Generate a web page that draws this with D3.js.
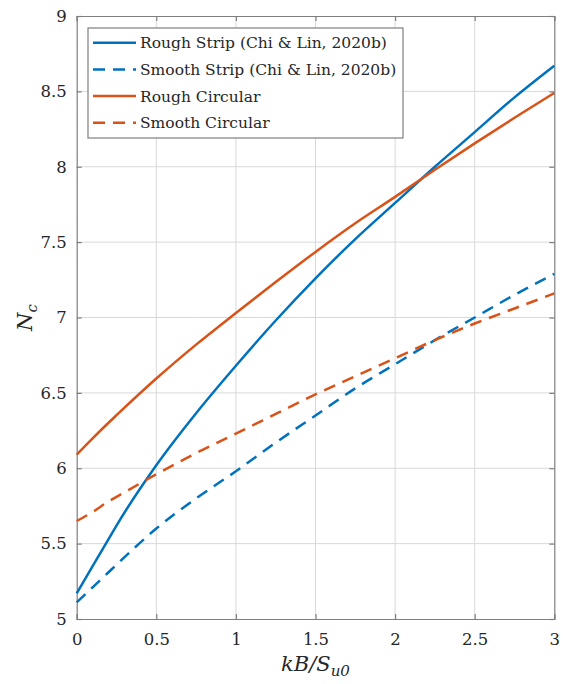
<!DOCTYPE html>
<html><head><meta charset="utf-8">
<script src="https://cdn.jsdelivr.net/npm/d3@7"></script>
<style>body{margin:0;background:#fff}svg{display:block}</style>
</head><body>
<script>
const xs = [0, 0.1, 0.2, 0.25, 0.5, 0.75, 1, 1.25, 1.5, 1.75, 2, 2.25, 2.5, 2.75, 3];
const roughStrip  = [5.17, 5.35, 5.53, 5.62, 6.02, 6.365, 6.68, 6.98, 7.26, 7.52, 7.76, 8.00, 8.23, 8.46, 8.67];
const smoothStrip = [5.11, 5.21, 5.31, 5.36, 5.60, 5.80, 5.98, 6.17, 6.35, 6.53, 6.69, 6.85, 7.00, 7.15, 7.29];
const roughCirc   = [6.09, 6.198, 6.302, 6.352, 6.595, 6.82, 7.03, 7.235, 7.435, 7.625, 7.80, 7.98, 8.155, 8.325, 8.49];
const smoothCirc  = [5.65, 5.71, 5.78, 5.81, 5.96, 6.10, 6.23, 6.36, 6.49, 6.61, 6.73, 6.85, 6.96, 7.06, 7.16];
const xTicks = [0, 0.5, 1, 1.5, 2, 2.5, 3];
const yTicks = [5, 5.5, 6, 6.5, 7, 7.5, 8, 8.5, 9];
const seriesNames = ["Rough Strip (Chi & Lin, 2020b)", "Smooth Strip (Chi & Lin, 2020b)", "Rough Circular", "Smooth Circular"];
const seriesColors = ["#0072BD", "#0072BD", "#D95319", "#D95319"];
const seriesDash = [null, "12,8", null, "12,8"];
const seriesData = [roughStrip, smoothStrip, roughCirc, smoothCirc];

const W = 565, H = 684;
const L = 76.7, R = 554.3, T = 16, B = 619;
const svg = d3.select("body").append("svg").attr("width", W).attr("height", H);
const x = d3.scaleLinear().domain([0, 3]).range([L, R]);
const y = d3.scaleLinear().domain([5, 9]).range([B, T]);
const font = "'DejaVu Serif', serif";

// grid
const g = svg.append("g");
g.selectAll(".gx").data(xTicks.slice(1, -1)).join("line")
  .attr("x1", d => x(d)).attr("x2", d => x(d)).attr("y1", T).attr("y2", B)
  .attr("stroke", "#d9d9d9").attr("stroke-width", 1);
g.selectAll(".gy").data(yTicks.slice(1, -1)).join("line")
  .attr("y1", d => y(d)).attr("y2", d => y(d)).attr("x1", L).attr("x2", R)
  .attr("stroke", "#d9d9d9").attr("stroke-width", 1);

// axes
const axB = d3.axisBottom(x).tickValues(xTicks).tickFormat(d3.format("")).tickSize(-5).tickPadding(14);
const axL = d3.axisLeft(y).tickValues(yTicks).tickFormat(d3.format("")).tickSize(-5).tickPadding(10);
const axT = d3.axisTop(x).tickValues(xTicks).tickSize(-5).tickFormat("");
const axR = d3.axisRight(y).tickValues(yTicks).tickSize(-5).tickFormat("");
function style(sel){
  sel.selectAll("path,line").attr("stroke", "#7f7f7f").attr("stroke-width", 1.2);
  sel.selectAll("text").attr("fill", "#262626").style("font-family", font).style("font-size", "16.5px");
}
svg.append("g").attr("transform", `translate(0,${B})`).call(axB).call(style);
svg.append("g").attr("transform", `translate(${L},0)`).call(axL).call(style);
svg.append("g").attr("transform", `translate(0,${T})`).call(axT).call(style);
svg.append("g").attr("transform", `translate(${R},0)`).call(axR).call(style);

// lines
const line = d3.line().x((d, i) => x(xs[i])).y(d => y(d)).curve(d3.curveMonotoneX);
seriesData.forEach((s, k) => {
  svg.append("path").datum(s).attr("d", line).attr("fill", "none")
    .attr("stroke", seriesColors[k]).attr("stroke-width", 2.5)
    .attr("stroke-dasharray", seriesDash[k]);
});

// legend
const lg = svg.append("g");
lg.append("rect").attr("x", 88).attr("y", 28).attr("width", 315).attr("height", 110)
  .attr("fill", "#fff").attr("stroke", "#7f7f7f").attr("stroke-width", 1.2);
seriesNames.forEach((n, k) => {
  const yy = 42.7 + k * 26.7;
  lg.append("line").attr("x1", 93).attr("x2", 136).attr("y1", yy).attr("y2", yy)
    .attr("stroke", seriesColors[k]).attr("stroke-width", 2.5).attr("stroke-dasharray", seriesDash[k]);
  lg.append("text").attr("x", 140).attr("y", yy).attr("dy", "0.35em").text(n)
    .attr("fill", "#262626").style("font-family", font).style("font-size", "15.5px");
});

// axis labels
const xl = svg.append("text").attr("x", (L + R) / 2).attr("y", 671).attr("text-anchor", "middle")
  .attr("fill", "#262626").style("font-family", font).style("font-size", "21px").style("font-style", "italic");
xl.append("tspan").text("kB/S");
xl.append("tspan").attr("dy", 5).style("font-size", "15px").text("u0");
const yl = svg.append("text").attr("transform", `translate(32,${(T + B) / 2}) rotate(-90)`).attr("text-anchor", "middle")
  .attr("fill", "#262626").style("font-family", font).style("font-size", "21px").style("font-style", "italic");
yl.append("tspan").text("N");
yl.append("tspan").attr("dy", 5).style("font-size", "15px").text("c");
</script>
</body></html>
